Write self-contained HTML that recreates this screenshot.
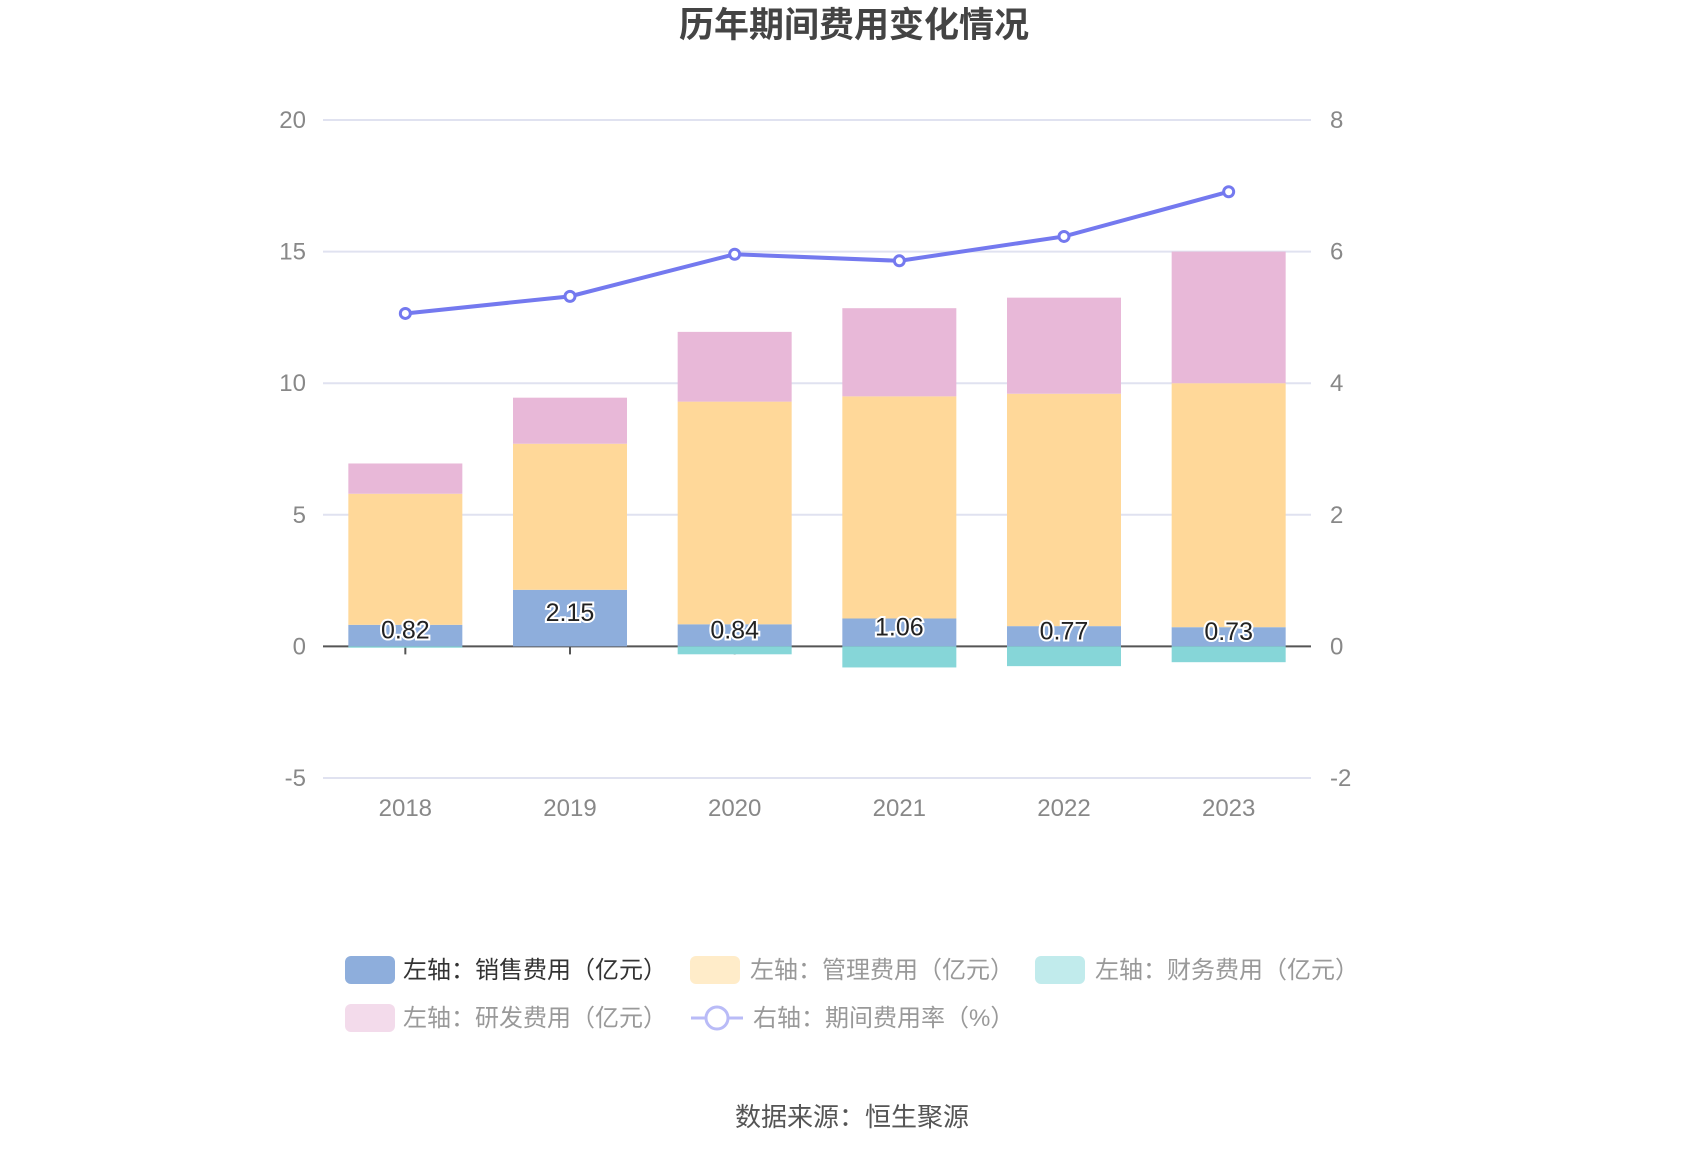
<!DOCTYPE html>
<html><head><meta charset="utf-8"><style>
body{margin:0;background:#fff;}
svg text{font-family:"Liberation Sans","Noto Sans CJK SC",sans-serif;}
</style></head><body>
<svg id="c" width="1700" height="1150" xmlns="http://www.w3.org/2000/svg">
<text x="854" y="37" text-anchor="middle" font-size="35" font-weight="bold" fill="#444">历年期间费用变化情况</text>
<g id="grid"></g><g id="bars"></g><g id="line"></g><g id="labels"></g>
<g>
<g><rect x="345" y="956" width="50" height="28" rx="6" fill="#8eaedc"/><text x="403" y="978" font-size="24" fill="#333">左轴：销售费用（亿元）</text></g>
<g><rect x="690" y="956" width="50" height="28" rx="6" fill="#ffecc9"/><text x="750" y="978" font-size="24" fill="#999">左轴：管理费用（亿元）</text></g>
<g><rect x="1035" y="956" width="50" height="28" rx="6" fill="#c1ebec"/><text x="1095" y="978" font-size="24" fill="#999">左轴：财务费用（亿元）</text></g>
<g><rect x="345" y="1004" width="50" height="28" rx="6" fill="#f3dbeb"/><text x="403" y="1026" font-size="24" fill="#999">左轴：研发费用（亿元）</text></g>
<g><line x1="691" y1="1018" x2="743" y2="1018" stroke="#b9bbf7" stroke-width="3"/><circle cx="717" cy="1018" r="11" fill="#fff" stroke="#b9bbf7" stroke-width="3"/><text x="753" y="1026" font-size="24" fill="#999">右轴：期间费用率（%）</text></g>
</g>
<text x="852" y="1126" text-anchor="middle" font-size="26" fill="#555">数据来源：恒生聚源</text>
</svg>
<script>
const categories=["2018","2019","2020","2021","2022","2023"];
const sales=[0.82,2.15,0.84,1.06,0.77,0.73];
const management=[4.98,5.55,8.46,8.44,8.83,9.27];
const finance=[-0.05,0,-0.3,-0.8,-0.75,-0.6];
const rd=[1.15,1.75,2.65,3.35,3.65,5.0];
const rate=[5.06,5.32,5.96,5.86,6.23,6.91];
const leftTicks=[-5,0,5,10,15,20];
const rightTicks=[-2,0,2,4,6,8];
const NS="http://www.w3.org/2000/svg";
const X0=323,X1=1311,Y0=120,Y1=778;
const band=(X1-X0)/categories.length;
const yL=v=>Y0+(20-v)/25*(Y1-Y0);
const yR=v=>Y0+(8-v)/10*(Y1-Y0);
const xC=i=>X0+band*(i+0.5);
const BW=114;
function mk(t,a,p){const e=document.createElementNS(NS,t);for(const k in a)e.setAttribute(k,a[k]);p.appendChild(e);return e;}
const grid=document.getElementById('grid'),bars=document.getElementById('bars'),line=document.getElementById('line'),labels=document.getElementById('labels');
leftTicks.forEach((v,i)=>{
 if(v!==0){const g=mk('line',{x1:X0,x2:X1,y1:yL(v),y2:yL(v),stroke:'#e0e2f0','stroke-width':2},grid);
 
 }
 const t=mk('text',{x:306,y:yL(v)+8,'text-anchor':'end','font-size':24,fill:'#888'},grid);t.textContent=v;
 
 
 const r=mk('text',{x:1330,y:yR(rightTicks[i])+8,'font-size':24,fill:'#888'},grid);r.textContent=rightTicks[i];
 
 
});
categories.forEach((c,i)=>{
 const x=xC(i),l=x-BW/2;
 function seg(y0,y1,col,n){const r=mk('rect',{x:l,y:Math.min(yL(y0),yL(y1)),width:BW,height:Math.abs(yL(y1)-yL(y0)),fill:col},bars);
  
  }
 seg(0,sales[i],'#8eaedc','bar-sales');
 seg(sales[i],sales[i]+management[i],'#ffd899','bar-management');
 seg(sales[i]+management[i],sales[i]+management[i]+rd[i],'#e8b8d8','bar-rd');
 seg(finance[i],0,'#86d6d8','bar-finance');
 const tk=mk('line',{x1:x,x2:x,y1:yL(0),y2:yL(0)+8,stroke:'#555','stroke-width':2},grid);
 
 
 const t=mk('text',{x:x,y:816,'text-anchor':'middle','font-size':24,fill:'#888'},grid);t.textContent=c;
 
 
 const v=mk('text',{x:x,y:yL(sales[i]/2)+3,'text-anchor':'middle','font-size':25,fill:'#222',stroke:'#fff','stroke-width':4,'paint-order':'stroke'},labels);v.textContent=sales[i].toFixed(2);
 
 
});
const ax=mk('line',{x1:X0,x2:X1,y1:yL(0),y2:yL(0),stroke:'#555','stroke-width':2},grid);


const pl=mk('polyline',{points:rate.map((v,i)=>xC(i)+','+yR(v)).join(' '),fill:'none',stroke:'#7479ef','stroke-width':4},line);


rate.forEach((v,i)=>{const p=mk('circle',{cx:xC(i),cy:yR(v),r:5,fill:'#fff',stroke:'#7479ef','stroke-width':3},line);
 
 });
</script>
</body></html>
